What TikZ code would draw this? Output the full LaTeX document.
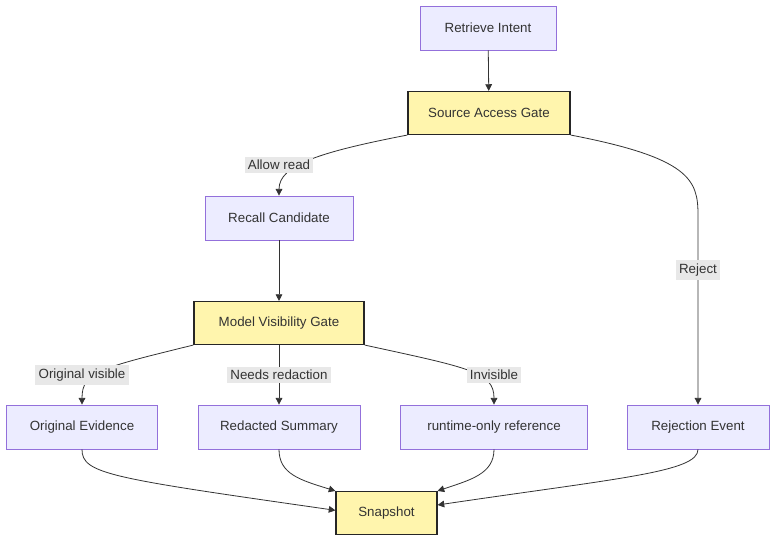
\documentclass[tikz,border=0pt]{standalone}
\usepackage{fontspec}
\setmainfont{Liberation Sans}
\usetikzlibrary{arrows.meta,calc}
\definecolor{nfill}{HTML}{ECECFF}
\definecolor{nborder}{HTML}{9370DB}
\definecolor{gfill}{HTML}{FFF5AD}
\definecolor{tcol}{HTML}{333333}
\definecolor{lbg}{HTML}{E8E8E8}
\begin{document}
\begin{tikzpicture}[x=0.75pt,y=-0.75pt,
  every node/.style={font=\fontsize{10}{12}\selectfont, text=tcol},
  proc/.style={draw=nborder, fill=nfill, line width=0.6pt, minimum height=33pt, inner sep=0pt},
  gate/.style={draw=black!85, fill=gfill, line width=1.1pt, minimum height=32pt, inner sep=0pt},
  elabel/.style={fill=lbg, inner sep=2.5pt, text=tcol},
  conn/.style={draw=tcol, line width=0.6pt, -{Triangle[length=5pt,width=5pt]}}]
\useasboundingbox (0,0) rectangle (784,548);
\fill[white] (0,0) rectangle (784,548);
% nodes
\node[proc, minimum width=102pt] (ri) at (488,28) {Retrieve Intent};
\node[gate, minimum width=121.5pt] (sag) at (489,113) {Source Access Gate};
\node[proc, minimum width=111pt] (rc) at (279,218) {Recall Candidate};
\node[gate, minimum width=127.5pt] (mvg) at (279,323) {Model Visibility Gate};
\node[proc, minimum width=113pt] (oe) at (82,427) {Original Evidence};
\node[proc, minimum width=121.5pt] (rs) at (279,427) {Redacted Summary};
\node[proc, minimum width=140pt] (rt) at (494,427) {runtime-only reference};
\node[proc, minimum width=106.5pt] (re) at (698,427) {Rejection Event};
\node[gate, minimum width=75.5pt] (sn) at (386.5,513) {Snapshot};
% connectors
\draw[conn] (ri) -- (sag);
\draw[conn] (sag.south west) .. controls (320,152) and (279,165) .. (rc.north);
\coordinate (rjbend) at (698,215);
\draw[conn] (sag.south east) .. controls (690,158) and (698,180) .. (rjbend) -- (re.north);
\draw[conn] (rc) -- (mvg);
\draw[conn] (mvg.south west) .. controls (100,368) and (82,372) .. (oe.north);
\draw[conn] (mvg) -- (rs);
\draw[conn] (mvg.south east) .. controls (470,368) and (494,372) .. (rt.north);
\draw[conn] (oe.south) .. controls (82,474) and (110,478) .. ([yshift=2pt]sn.west);
\draw[conn] (rs.south) .. controls (279,474) and (300,480) .. (sn.north west);
\draw[conn] (rt.south) .. controls (494,474) and (470,480) .. (sn.north east);
\draw[conn] (re.south) .. controls (698,472) and (620,478) .. ([yshift=6pt]sn.east);
% labels
\node[elabel] at (279,165) {Allow read};
\node[elabel] at (698,270) {Reject};
\node[elabel] at (82,375) {Original visible};
\node[elabel] at (279,375) {Needs redaction};
\node[elabel] at (494,375) {Invisible};
\end{tikzpicture}
\end{document}
